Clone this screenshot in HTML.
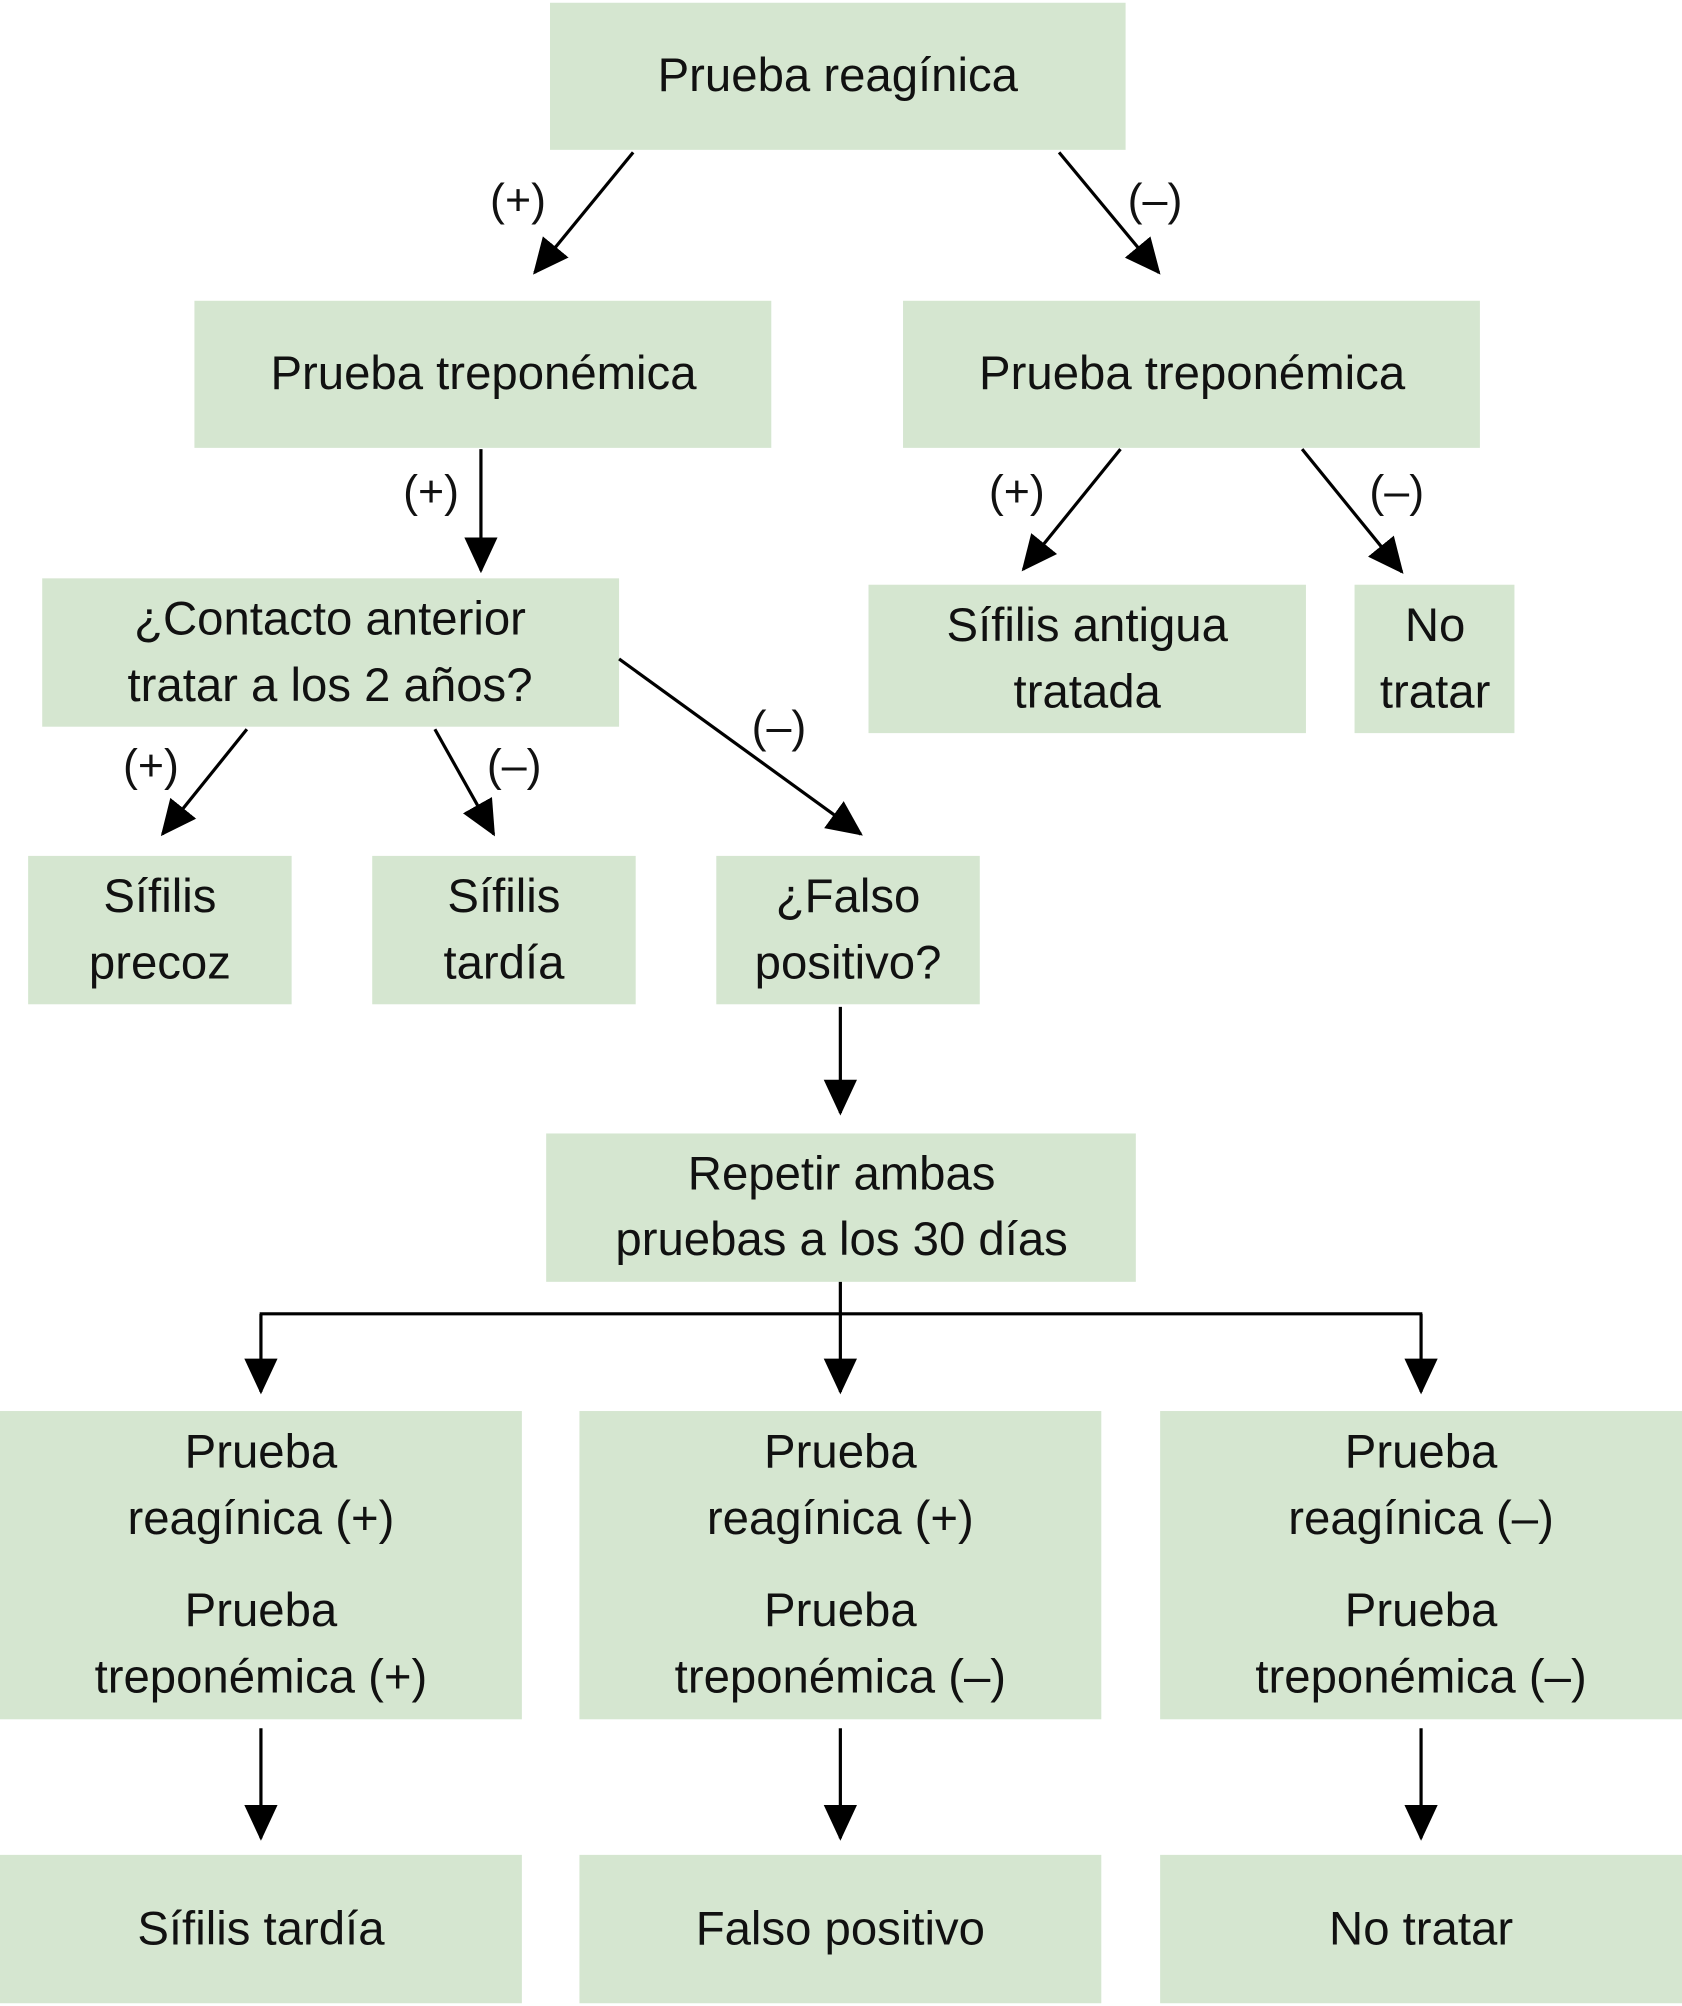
<!DOCTYPE html>
<html><head><meta charset="utf-8">
<style>html,body{margin:0;padding:0;background:#fff}svg{display:block}</style>
</head><body>
<svg width="1682" height="2006" viewBox="0 0 1315 1568" xmlns="http://www.w3.org/2000/svg">
<defs>
<marker id="a" markerUnits="userSpaceOnUse" markerWidth="28" markerHeight="28" viewBox="0 0 28 28" refX="26" refY="14" orient="auto">
<path d="M0,1 L28,14 L0,27 Z" fill="#000"/>
</marker>
</defs>
<g fill="#d5e6d0">
<rect x="430" y="2" width="450" height="115"/>
<rect x="152" y="235" width="451" height="115"/>
<rect x="706" y="235" width="451" height="115"/>
<rect x="33" y="452" width="451" height="116"/>
<rect x="679" y="457" width="342" height="116"/>
<rect x="1059" y="457" width="125" height="116"/>
<rect x="22" y="669" width="206" height="116"/>
<rect x="291" y="669" width="206" height="116"/>
<rect x="560" y="669" width="206" height="116"/>
<rect x="427" y="886" width="461" height="116"/>
<rect x="0" y="1103" width="408" height="241"/>
<rect x="453" y="1103" width="408" height="241"/>
<rect x="907" y="1103" width="408" height="241"/>
<rect x="0" y="1450" width="408" height="116"/>
<rect x="453" y="1450" width="408" height="116"/>
<rect x="907" y="1450" width="408" height="116"/>
</g>
<g stroke="#000" stroke-width="2.5" fill="none" marker-end="url(#a)">
<line x1="495" y1="119" x2="418" y2="213"/>
<line x1="828" y1="119" x2="906" y2="213"/>
<line x1="376" y1="351" x2="376" y2="446"/>
<line x1="876" y1="351" x2="800" y2="445"/>
<line x1="1018" y1="351" x2="1096" y2="447"/>
<line x1="193" y1="570" x2="127" y2="652"/>
<line x1="340" y1="570" x2="386" y2="652"/>
<line x1="484" y1="515" x2="673" y2="652"/>
<line x1="657" y1="787" x2="657" y2="870"/>
<line x1="204" y1="1027" x2="204" y2="1088"/>
<line x1="657" y1="1002" x2="657" y2="1088"/>
<line x1="1111" y1="1027" x2="1111" y2="1088"/>
<line x1="204" y1="1351" x2="204" y2="1437"/>
<line x1="657" y1="1351" x2="657" y2="1437"/>
<line x1="1111" y1="1351" x2="1111" y2="1437"/>
</g>
<line x1="203" y1="1027" x2="1112" y2="1027" stroke="#000" stroke-width="2.5"/>
<g font-family="Liberation Sans, DejaVu Sans, sans-serif" font-size="37" fill="#111" text-anchor="middle">
<text x="655" y="71">Prueba reagínica</text>
<text x="378" y="304">Prueba treponémica</text>
<text x="932" y="304">Prueba treponémica</text>
<text x="258" y="496">¿Contacto anterior</text>
<text x="258" y="548">tratar a los 2 años?</text>
<text x="850" y="501">Sífilis antigua</text>
<text x="850" y="553">tratada</text>
<text x="1122" y="501">No</text>
<text x="1122" y="553">tratar</text>
<text x="125" y="713">Sífilis</text>
<text x="125" y="765">precoz</text>
<text x="394" y="713">Sífilis</text>
<text x="394" y="765">tardía</text>
<text x="663" y="713">¿Falso</text>
<text x="663" y="765">positivo?</text>
<text x="658" y="930">Repetir ambas</text>
<text x="658" y="981">pruebas a los 30 días</text>
<text x="204" y="1147">Prueba</text>
<text x="204" y="1199">reagínica (+)</text>
<text x="204" y="1271">Prueba</text>
<text x="204" y="1323">treponémica (+)</text>
<text x="657" y="1147">Prueba</text>
<text x="657" y="1199">reagínica (+)</text>
<text x="657" y="1271">Prueba</text>
<text x="657" y="1323">treponémica (–)</text>
<text x="1111" y="1147">Prueba</text>
<text x="1111" y="1199">reagínica (–)</text>
<text x="1111" y="1271">Prueba</text>
<text x="1111" y="1323">treponémica (–)</text>
<text x="204" y="1520">Sífilis tardía</text>
<text x="657" y="1520">Falso positivo</text>
<text x="1111" y="1520">No tratar</text>
</g>
<g font-family="Liberation Sans, DejaVu Sans, sans-serif" font-size="35" fill="#111" text-anchor="middle">
<text x="405" y="168">(+)</text>
<text x="903" y="168">(–)</text>
<text x="337" y="396">(+)</text>
<text x="795" y="396">(+)</text>
<text x="1092" y="396">(–)</text>
<text x="118" y="610">(+)</text>
<text x="402" y="610">(–)</text>
<text x="609" y="580">(–)</text>
</g>
</svg>
</body></html>
